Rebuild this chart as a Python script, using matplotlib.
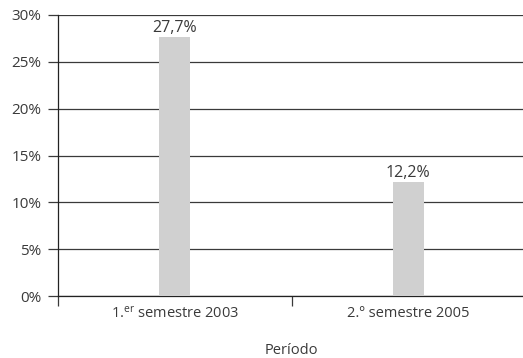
import matplotlib
matplotlib.use("Agg")
import matplotlib.pyplot as plt
from matplotlib.ticker import FuncFormatter, FixedLocator

plt.rcParams['font.family'] = ['Open Sans', 'DejaVu Sans']
plt.rcParams['mathtext.fontset'] = 'custom'
plt.rcParams['mathtext.rm'] = 'Open Sans'
plt.rcParams['mathtext.it'] = 'Open Sans'

categories = [r"1.$^{\mathrm{er}}$ semestre 2003", "2.º semestre 2005"]
values = [27.7, 12.2]
value_labels = ["27,7%", "12,2%"]
yticks = [0, 5, 10, 15, 20, 25, 30]

W, H = 523, 358
fig = plt.figure(figsize=(W / 100, H / 100), dpi=100)
ax = fig.add_axes([58 / W, (H - 296) / H, (525 - 58) / W, (296 - 15) / H])

text_color = "#3a3a3a"
line_color = "#3a3a3a"
x = list(range(len(categories)))
ax.bar(x, values, width=0.133, color="#d0d0d0", zorder=3)
for xi, v, lab in zip(x, values, value_labels):
    ax.text(xi, v + 0.05, lab, ha="center", va="bottom", fontsize=11.5, color=text_color, zorder=4)

ax.set_xlim(-0.5, 1.5)
ax.set_ylim(0, 30)
ax.set_yticks(yticks)
ax.yaxis.set_major_formatter(FuncFormatter(lambda v, p: f"{v:.0f}%"))
ax.grid(axis="y", color=line_color, linewidth=0.9, zorder=1)
ax.set_axisbelow(True)

ax.set_xticks(x)
ax.set_xticklabels(categories)
ax.xaxis.set_minor_locator(FixedLocator([-0.5, 0.5, 1.5]))
ax.tick_params(axis="x", which="major", length=0, pad=7, labelsize=10.5, labelcolor=text_color)
ax.tick_params(axis="x", which="minor", length=7.5, width=0.9, color=line_color, direction="out")
ax.tick_params(axis="y", length=7, width=0.9, color=line_color, pad=5, labelsize=11, labelcolor=text_color)

for s in ["top", "right"]:
    ax.spines[s].set_visible(False)
for s in ["left", "bottom"]:
    ax.spines[s].set_color("#222222")
    ax.spines[s].set_linewidth(0.9)

ax.set_xlabel("Período", fontsize=10.5, color=text_color, labelpad=15)

fig.savefig("out.png", dpi=100)
